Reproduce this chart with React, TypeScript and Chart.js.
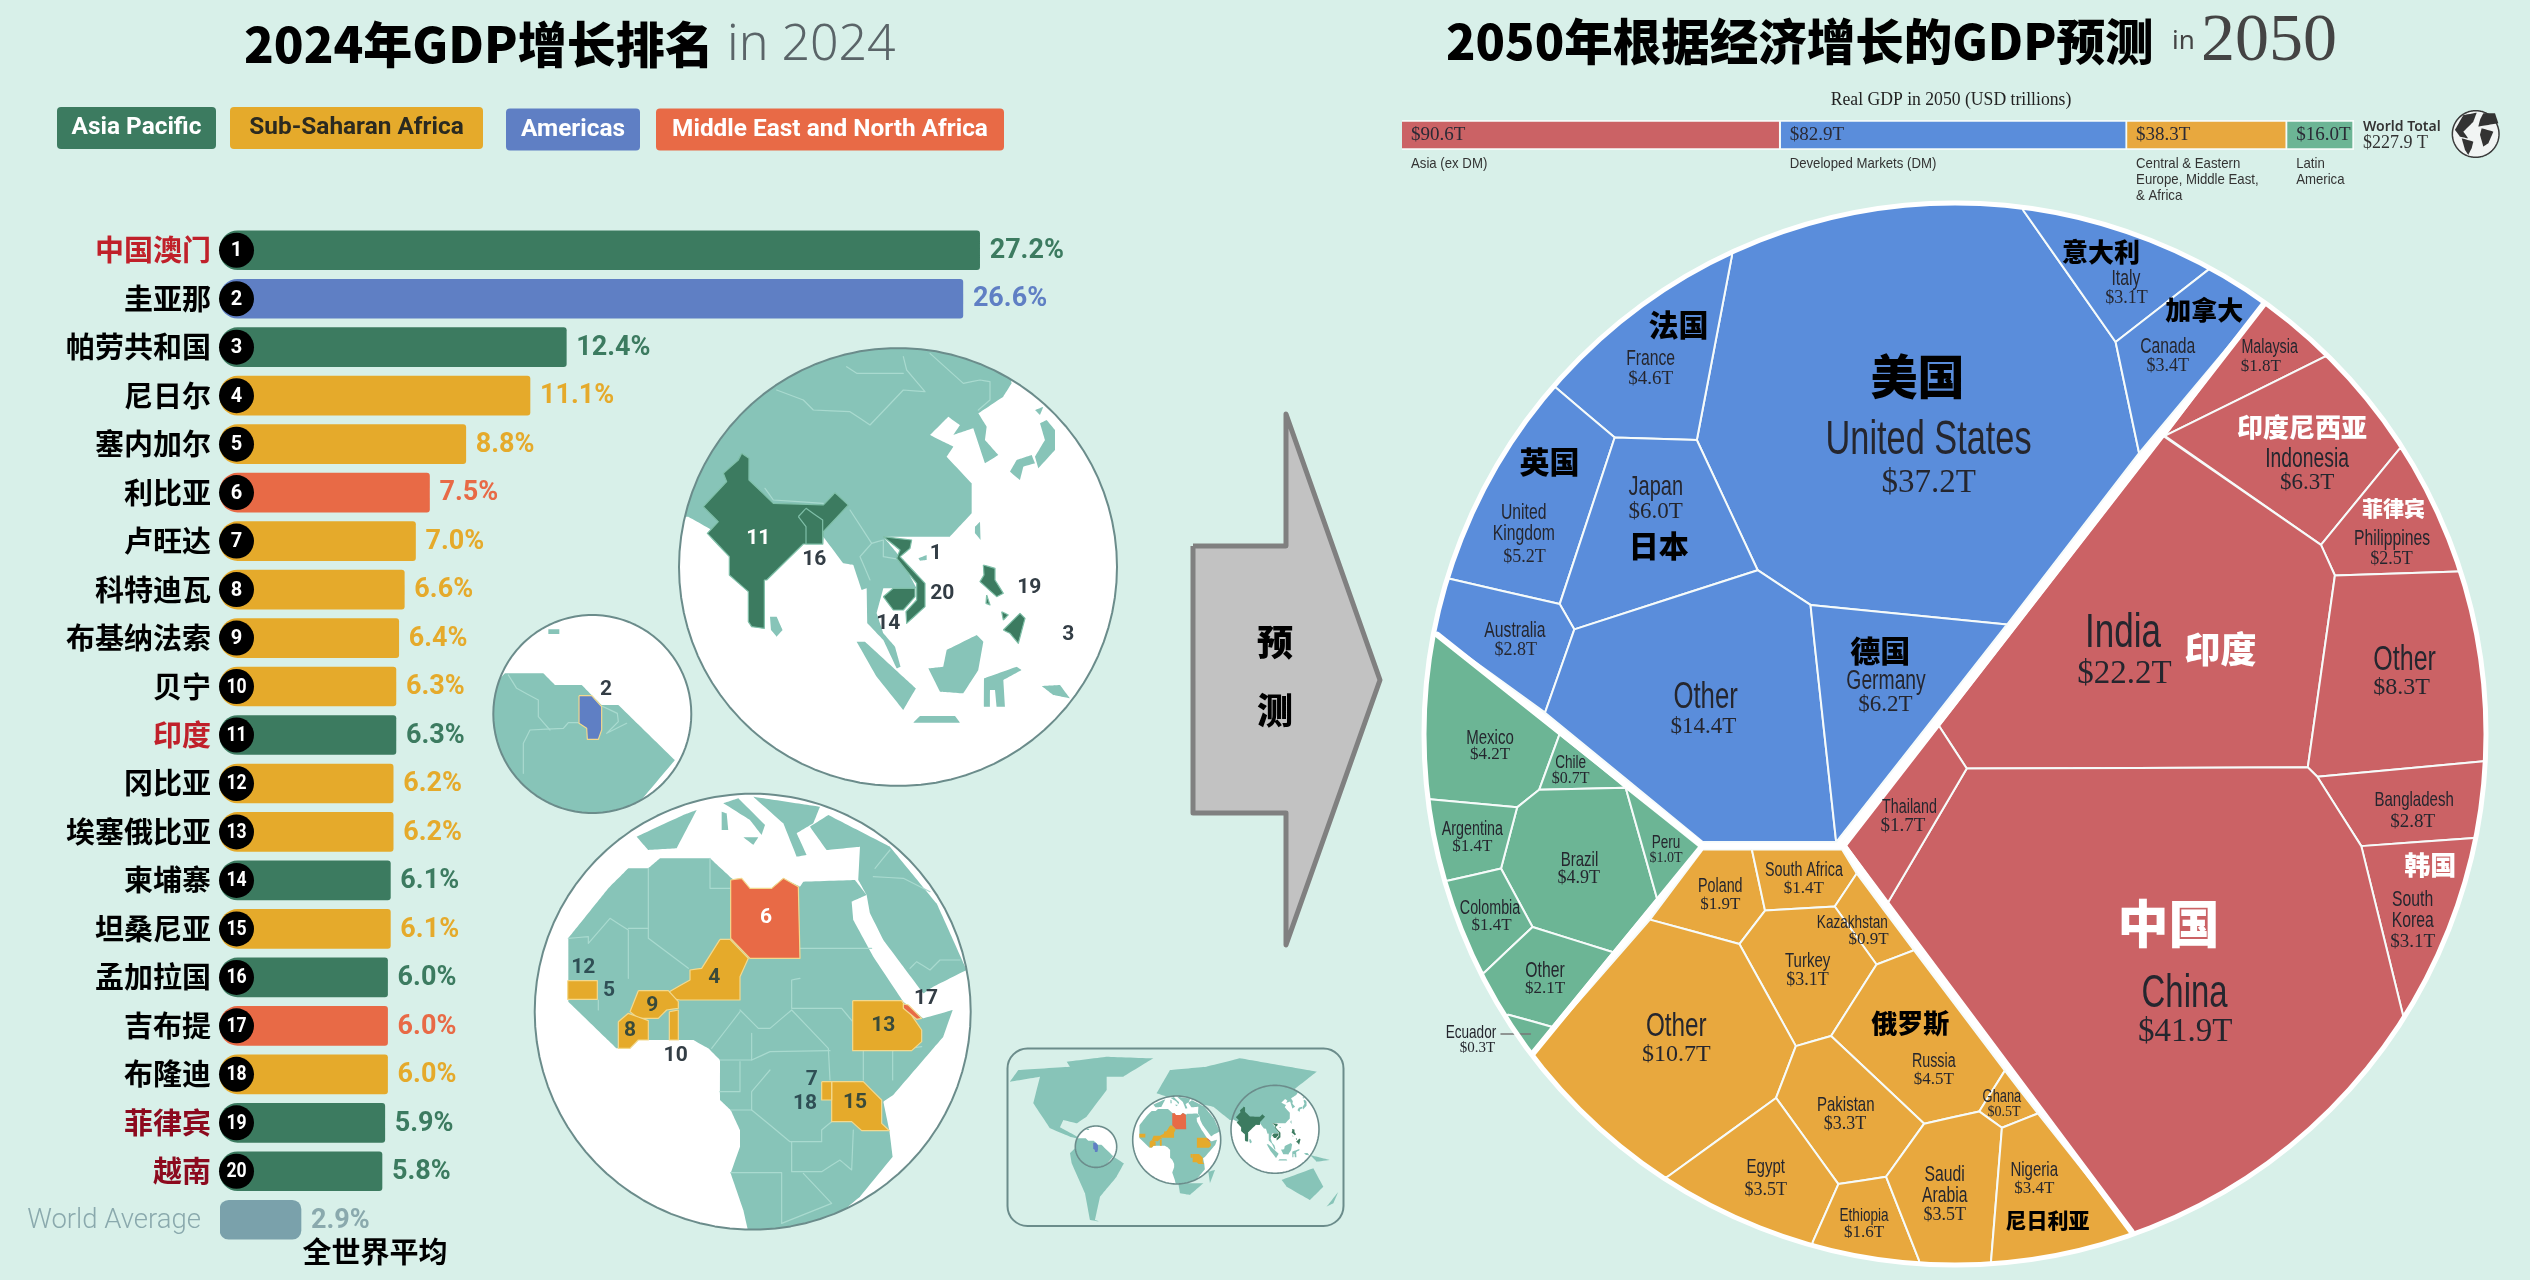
import React, { useEffect, useRef } from "react";
import { Chart, registerables } from "chart.js";

type P = [number, number];

// ---------- left ranking ----------
const countries = ["中国澳门","圭亚那","帕劳共和国","尼日尔","塞内加尔","利比亚","卢旺达","科特迪瓦","布基纳法索","贝宁","印度","冈比亚","埃塞俄比亚","柬埔寨","坦桑尼亚","孟加拉国","吉布提","布隆迪","菲律宾","越南","World Average"];
const growth = [27.2,26.6,12.4,11.1,8.8,7.5,7.0,6.6,6.4,6.3,6.3,6.2,6.2,6.1,6.1,6.0,6.0,6.0,5.9,5.8,2.9];
const barRegion = [0,2,0,1,1,3,1,1,1,1,0,1,1,0,1,0,3,1,0,0,4];
const regionNames = ["Asia Pacific","Sub-Saharan Africa","Americas","Middle East and North Africa"];
const regionColors = ["#3c7b60","#e5aa2b","#5f7fc4","#e86a46","#7aa1ab"];
const labelColors = ["#c0202a","#000","#000","#000","#000","#000","#000","#000","#000","#000","#c0202a","#000","#000","#000","#000","#000","#000","#000","#8c0a1e","#8c0a1e","#8aa9ad"];

// ---------- 2050 top strip ----------
const stripNames = [["Asia (ex DM)"],["Developed Markets (DM)"],["Central & Eastern","Europe, Middle East,","& Africa"],["Latin","America"]];
const stripValues = [90.6,82.9,38.3,16.0];
const stripColors = ["#cb6265","#5a8ddb","#e8a83e","#6cb595"];
const worldTotal = 227.9;

// ---------- 2050 cells ----------
const cellNames = ["United States","Italy","Canada","France","United\nKingdom","Japan","Australia","Other","Germany",
 "Malaysia","Indonesia","Philippines","India","Other","Bangladesh","South\nKorea","China","Thailand",
 "Mexico","Chile","Brazil","Peru","Argentina","Colombia","Other","Ecuador",
 "Poland","South Africa","Kazakhstan","Turkey","Other","Russia","Ghana","Pakistan","Egypt","Ethiopia","Saudi\nArabia","Nigeria"];
const cellValues = [37.2,3.1,3.4,4.6,5.2,6.0,2.8,14.4,6.2,
 1.8,6.3,2.5,22.2,8.3,2.8,3.1,41.9,1.7,
 4.2,0.7,4.9,1.0,1.4,1.4,2.1,0.3,
 1.9,1.4,0.9,3.1,10.7,4.5,0.5,3.3,3.5,1.6,3.5,3.4];
const cellRegion = [1,1,1,1,1,1,1,1,1, 0,0,0,0,0,0,0,0,0, 3,3,3,3,3,3,3,3, 2,2,2,2,2,2,2,2,2,2,2,2];
const cellShapes: P[][] = [
 [[480,625],[432,1078],[515,1397],[587,1482],[855,1530],[1035,1110],[1003,838],[877,515],[877,300],[480,300]],
 [[877,515],[1003,838],[1130,660],[1300,500],[877,300]],
 [[1003,838],[1035,1110],[1205,745],[1350,700],[1200,560],[1130,660]],
 [[240,950],[320,1072],[432,1078],[480,625],[480,300],[100,600],[100,850]],
 [[240,950],[320,1072],[245,1480],[95,1418],[-100,1350],[-100,850]],
 [[320,1072],[432,1078],[515,1397],[265,1542],[245,1480]],
 [[95,1418],[245,1480],[265,1542],[225,1746],[78,1555],[-100,1555],[-100,1350]],
 [[265,1542],[515,1397],[587,1482],[592,1568],[622,2063],[440,2063],[225,1746]],
 [[587,1482],[855,1530],[622,2063],[592,1568]],
 [[1070,1068],[1205,745],[1350,700],[1500,800],[1287,875]],
 [[1070,1068],[1287,875],[1500,800],[1600,1100],[1390,1100],[1283,1335]],
 [[1390,1100],[1283,1335],[1302,1410],[1470,1400],[1700,1400],[1600,1100]],
 [[1068,1068],[1283,1335],[1302,1410],[1265,1880],[800,1883],[762,1778]],
 [[1302,1410],[1470,1400],[1700,1400],[1700,1865],[1505,1865],[1278,1903],[1265,1880]],
 [[1278,1903],[1505,1865],[1700,1865],[1700,2053],[1492,2053],[1338,2073]],
 [[1338,2073],[1492,2053],[1700,2053],[1700,2700],[1395,2488]],
 [[800,1883],[1265,1880],[1278,1903],[1338,2073],[1395,2488],[1700,2700],[1100,3300],[1025,3018],[692,2213]],
 [[762,1778],[800,1883],[692,2213],[632,2063]],
 [[78,1555],[245,1798],[217,1935],[187,1978],[68,1958],[-100,1958],[-100,1555]],
 [[245,1798],[335,1930],[217,1935]],
 [[217,1935],[335,1930],[378,2203],[318,2333],[208,2271],[165,2128],[187,1978]],
 [[335,1930],[437,2076],[378,2203]],
 [[68,1958],[187,1978],[165,2128],[92,2158],[-100,2158],[-100,1958]],
 [[92,2158],[165,2128],[208,2271],[142,2383],[-100,2383],[-100,2158]],
 [[208,2271],[318,2333],[235,2516],[175,2486],[0,2560],[-100,2383],[142,2383]],
 [[175,2486],[235,2516],[208,2582],[100,2700],[0,2560]],
 [[440,2081],[507,2081],[525,2231],[490,2313],[368,2253]],
 [[507,2081],[630,2081],[650,2140],[620,2221],[525,2231]],
 [[650,2140],[728,2328],[677,2363],[620,2221]],
 [[525,2231],[620,2221],[677,2363],[615,2538],[567,2563],[490,2313]],
 [[368,2253],[490,2313],[567,2563],[540,2690],[392,2883],[200,3000],[100,2700],[208,2582]],
 [[677,2363],[728,2328],[852,2623],[817,2723],[742,2753],[615,2538]],
 [[852,2623],[897,2728],[848,2763],[817,2723]],
 [[567,2563],[615,2538],[742,2753],[690,2883],[625,2901],[540,2690]],
 [[392,2883],[540,2690],[625,2901],[590,3043],[590,3300],[200,3000]],
 [[625,2901],[690,2883],[735,3088],[735,3300],[590,3300],[590,3043]],
 [[690,2883],[742,2753],[817,2723],[848,2763],[833,3093],[833,3300],[735,3300],[735,3088]],
 [[848,2763],[897,2728],[1025,3018],[1100,3300],[833,3300],[833,3093]],
];
const regionBorders: P[][] = [
 [[1205,745],[632,2072]],
 [[440,2072],[632,2072]],
 [[78,1555],[440,2072]],
 [[440,2072],[208,2582]],
 [[632,2072],[1025,3018]],
];
// nameX, nameY, nameSize, valueX, valueY, valueSize
const cellLayout: number[][] = [
 [748,1080,48,748,1183,33],[1017,684,22,1018,731,18],[1074,849,22,1074,897,18],[369,880,22,369,929,19],[196,1256,22,197,1365,18],[376,1195,28,376,1254,23],[184,1545,22,185,1592,18],[444,1710,36,441,1780,23],[690,1670,27,689,1726,23],
 [1213,852,20,1201,897,17],[1264,1127,27,1264,1183,23],[1380,1321,22,1379,1369,18],[1013,1553,49,1015,1652,33],[1397,1618,35,1393,1684,24],[1410,1960,21,1408,2014,19],[1408,2204,22,1408,2308,19],[1097,2436,46,1098,2528,33],[722,1978,20,713,2023,19],
 [150,1808,21,150,1849,17],[260,1868,19,260,1908,16],[272,2108,21,271,2151,18],[390,2065,19,390,2103,14],[126,2033,20,126,2074,17],[150,2226,20,152,2268,17],[225,2380,22,225,2423,17],[124,2530,19,133,2568,15],
 [464,2171,20,464,2216,17],[578,2133,20,578,2176,17],[644,2260,19,666,2301,17],[583,2355,21,583,2401,18],[404,2515,34,404,2584,24],[755,2600,20,755,2645,17],[848,2688,18,851,2726,14],[635,2707,21,634,2755,18],[526,2860,21,526,2915,18],[660,2978,19,660,3020,17],[770,2878,22,770,2978,18],[892,2868,21,892,2912,17],
];
// Chinese call-outs on the cells: text, x, y, size, colour
const cnLabels: [string,number,number,number,string][] = [
 ["美国",733,922,47,"#000"],["意大利",983,618,26,"#000"],["加拿大",1124,760,26,"#000"],["法国",407,795,30,"#000"],["英国",231,1132,30,"#000"],["日本",380,1336,30,"#000"],["德国",682,1593,30,"#000"],
 ["印度尼西亚",1257,1046,26,"#fff"],["菲律宾",1382,1244,21,"#fff"],["印度",1146,1590,36,"#fff"],["韩国",1432,2120,26,"#fff"],["中国",1075,2263,51,"#fff"],
 ["俄罗斯",723,2506,26,"#000"],["尼日利亚",910,2988,21,"#000"],
];

// ---------- maps (picture units of each map) ----------
const asiaLand: P[][] = [
 [[-50,535],[55,530],[135,575],[460,590],[520,670],[550,675],[575,750],[590,745],[592,850],[640,900],[680,985],[692,980],[675,920],[640,880],[620,820],[640,745],[740,745],[690,650],[640,590],[840,590],[905,520],[905,430],[830,350],[850,320],[830,310],[780,285],[835,230],[870,255],[850,285],[910,265],[945,370],[985,345],[945,300],[950,260],[925,220],[1000,170],[1025,130],[1000,-50],[-50,-50]],
 [[300,830],[320,830],[338,870],[320,890],[303,870]],
 [[745,655],[770,645],[770,660],[750,662]],
 [[915,560],[930,545],[932,600],[915,580]],
 [[1110,250],[1130,240],[1155,270],[1155,330],[1105,385],[1095,350],[1125,300]],
 [[1020,395],[1040,360],[1085,345],[1095,370],[1060,380],[1050,420]],
 [[1095,210],[1120,200],[1110,225]],
 [[560,905],[585,905],[738,1045],[700,1110],[620,1010]],
 [[775,985],[820,980],[830,930],[920,885],[940,905],[925,990],[880,1060],[810,1055]],
 [[942,1015],[1040,980],[1055,990],[1000,1020],[1005,1100],[980,1100],[975,1050],[960,1050],[960,1100],[942,1100]],
 [[730,1148],[750,1128],[855,1128],[870,1148]],
 [[1115,1038],[1170,1035],[1200,1075],[1150,1065]],
];
const asiaDark: P[][] = [
 [[215,340],[237,355],[237,420],[310,490],[460,495],[495,458],[535,495],[460,575],[458,612],[400,612],[290,720],[283,720],[283,865],[245,860],[235,845],[235,755],[178,705],[178,650],[112,580],[145,545],[100,500],[170,425],[160,400],[205,360]],
 [[385,530],[408,505],[458,540],[458,612],[408,612],[408,560]],
 [[640,770],[670,745],[735,745],[735,770],[700,810],[670,810]],
 [[640,590],[725,600],[720,625],[690,650],[765,730],[765,800],[710,850],[708,815],[740,780],[740,730],[680,655],[690,630]],
 [[940,675],[975,685],[975,720],[1000,760],[980,770],[930,725],[942,705]],
 [[1000,870],[1050,820],[1065,835],[1045,910],[1020,880]],
 [[950,765],[960,795],[948,790]],
 [[995,815],[1015,825],[1000,840]],
];
const asiaBorders: P[][] = [
 [[320,150],[400,180],[430,210],[540,215],[600,255],[700,150],[765,155],[710,90],[700,50]],
 [[530,80],[560,100],[700,100]],
 [[780,40],[880,130],[930,120],[960,125],[960,180],[925,210]],
 [[285,445],[310,480],[460,490]],
 [[540,510],[605,610],[570,650],[600,720]],
 [[605,610],[640,600],[640,650],[700,660]],
];
const africaLand: P[][] = [
 [[145,475],[265,325],[325,265],[385,265],[420,235],[570,235],[635,295],[685,325],[755,325],[790,295],[840,320],[850,305],[1005,300],[1040,345],[995,365],[1000,420],[1060,530],[1150,665],[1210,715],[1298,690],[1270,770],[1120,945],[1090,965],[1108,1050],[1118,1130],[1020,1250],[960,1300],[800,1400],[695,1400],[670,1290],[632,1180],[660,1100],[660,1050],[632,990],[600,960],[600,840],[565,805],[520,780],[355,780],[330,805],[290,805],[145,665]],
 [[350,170],[490,105],[530,90],[470,205],[385,210]],
 [[610,70],[655,55],[735,135],[725,165],[690,120]],
 [[700,50],[900,80],[880,130],[830,160],[860,225],[830,230],[790,130]],
 [[605,95],[620,100],[625,150],[605,150]],
 [[670,172],[715,172],[700,195]],
 [[870,140],[925,105],[1110,200],[1250,370],[1340,570],[1240,620],[1210,640],[1150,560],[1090,480],[1050,400],[1040,345],[1015,300],[1020,200],[920,210]],
];
const africaGold: P[][] = [
 [[600,478],[630,478],[685,535],[660,590],[660,660],[480,660],[448,655],[448,635],[510,600],[510,570],[545,565]],
 [[355,632],[445,632],[475,665],[475,685],[440,690],[415,715],[355,715],[330,695]],
 [[295,725],[325,700],[385,722],[385,780],[355,780],[330,805],[295,805]],
 [[143,602],[232,602],[232,658],[143,658]],
 [[448,695],[475,690],[475,780],[448,780]],
 [[998,662],[1145,662],[1205,750],[1205,785],[1175,812],[998,812]],
 [[935,905],[1030,905],[1085,960],[1085,1030],[1108,1052],[1025,1052],[995,1025],[935,1025]],
 [[905,905],[935,905],[935,960],[905,960]],
];
const africaRed: P[][] = [
 [[632,300],[665,295],[690,325],[755,325],[790,295],[835,320],[840,535],[690,535],[632,475]],
 [[1150,672],[1165,675],[1205,715],[1190,718],[1150,685]],
];
const africaBorders: P[][] = [
 [[385,265],[385,475],[505,565]],[[570,235],[570,325],[632,325]],
 [[145,475],[205,470],[205,490],[270,415],[325,450],[325,595]],[[325,445],[385,445]],
 [[840,505],[1055,505]],[[840,595],[815,600],[815,685],[965,685],[998,725]],
 [[660,690],[715,745],[750,745],[815,690],[925,805],[930,900]],[[660,695],[575,805]],
 [[695,760],[695,840],[600,840]],[[695,840],[750,815],[930,812]],
 [[750,870],[695,935],[695,990],[810,1085],[905,1085],[905,1050],[935,1025]],
 [[600,935],[660,935],[660,845]],[[632,990],[695,990]],
 [[815,1085],[815,1175],[905,1175],[960,1140],[995,1170],[1000,1050]],
 [[632,1178],[785,1178],[785,1330]],[[850,1180],[935,1270],[785,1330]],
 [[1030,900],[1030,812]],[[1118,900],[1118,812],[1205,800]],
 [[1065,265],[1110,210]],[[1060,290],[1150,295],[1230,335]],[[1170,565],[1190,545],[1230,570],[1260,540],[1320,540]],
 [[148,620],[190,620],[190,640],[148,640]],[[235,660],[235,690]],
];
const samericaLand: P[][] = [
 [[75,220],[190,220],[225,255],[305,255],[365,315],[415,315],[585,480],[400,700],[0,700],[0,300]],
 [[205,88],[238,88],[238,102],[205,102]],
];
const guyanaShape: P[] = [[297,287],[335,287],[365,320],[365,390],[355,418],[322,418],[320,385],[297,370]];
const samericaBorders: P[][] = [
 [[85,225],[110,265],[175,300],[175,350],[210,390]],
 [[130,520],[130,430],[150,390],[250,385],[265,368],[297,368]],
 [[365,318],[412,340],[415,365],[380,400],[440,370]],
];
const insetLand: P[][] = [
 [[30,125],[55,90],[210,80],[200,65],[320,50],[460,55],[370,110],[320,110],[320,150],[260,230],[230,250],[190,240],[180,262],[250,300],[210,290],[150,265],[100,190],[120,110]],
 [[210,340],[250,300],[340,350],[372,370],[350,410],[300,470],[285,540],[300,545],[270,540],[255,460],[215,370]],
 [[470,160],[510,90],[620,80],[720,55],[950,95],[880,150],[850,200],[780,260],[690,240],[640,200],[500,170]],
 [[535,430],[610,430],[570,465],[540,460]],
 [[625,395],[645,390],[630,430]],
 [[845,420],[940,385],[970,440],[930,480],[860,440]],
 [[980,500],[1015,455],[1000,490]],
 [[930,345],[990,360],[950,365]],
];
const asiaNumbers: [string,number,number,string][] = [["11",265,595,"#fff"],["16",433,660,"#333d45"],["1",797,640,"#333d45"],["20",817,762,"#333d45"],["19",1078,743,"#333d45"],["14",655,850,"#333d45"],["3",1195,885,"#333d45"]];
const africaNumbers: [string,number,number,string][] = [["12",190,563,"#2f4f55"],["5",267,632,"#2f4f55"],["8",330,752,"#3a4a3a"],["9",397,677,"#3a4a3a"],["4",583,593,"#3a4a3a"],["6",738,412,"#fff"],["10",467,826,"#333d45"],["13",1090,738,"#3a4a3a"],["17",1218,655,"#333d45"],["7",875,898,"#2f4f55"],["18",855,972,"#2f4f55"],["15",1005,968,"#3a4a3a"]];
const globeIconLand: P[][] = [
 [[345,120],[370,75],[410,68],[400,95],[370,125],[385,145],[360,140]],
 [[365,145],[400,155],[395,175],[385,195],[375,180]],
 [[415,110],[475,100],[465,70],[430,70],[420,90]],
 [[425,115],[460,125],[445,160],[430,170],[420,135]],
];
const arrowShape: P[] = [[1193,546],[1286,546],[1286,414],[1380,680],[1286,945],[1286,813],[1193,813]];

// ---------- helpers ----------
const BG = "#d8f0e9";
const CJK = '"Noto Sans CJK SC"';
const SANS = '"Liberation Sans",sans-serif';
const SERIF = '"Liberation Serif",serif';
const LAND = "#87c4b8";
const LINE = "#a9dacf";
const RING = "#6b8c8b";

const clipCirclePlugin = {
  id: "clipCircle",
  beforeDatasetDraw(chart: any, args: any) {
    const c = chart.data.datasets[args.index].clipCircle;
    if (!c) return;
    chart.ctx.save();
    chart.ctx.beginPath();
    chart.ctx.arc(c.cx, c.cy, c.r, 0, Math.PI * 2);
    chart.ctx.clip();
  },
  afterDatasetDraw(chart: any, args: any) {
    if (chart.data.datasets[args.index].clipCircle) chart.ctx.restore();
  },
};
Chart.register(clipCirclePlugin, ...registerables);

const pts = (a: P[]) => a.map(([x, y]) => ({ x, y }));
const poly = (a: P[], fill: string, stroke = "transparent", w = 0, clip?: any) => ({
  data: pts([...a, a[0]]), fill: "shape", backgroundColor: fill, borderColor: stroke, borderWidth: w,
  pointRadius: 0, tension: 1e-4, borderJoinStyle: "round", clipCircle: clip,
});
const line = (a: P[], stroke: string, w: number, clip?: any) => ({
  data: pts(a), fill: false, borderColor: stroke, borderWidth: w, pointRadius: 0, tension: 1e-4,
  borderCapStyle: "round", borderJoinStyle: "round", clipCircle: clip,
});
const circlePts = (cx: number, cy: number, r: number): P[] =>
  Array.from({ length: 90 }, (_, i) => [cx + r * Math.cos((i / 90) * Math.PI * 2), cy + r * Math.sin((i / 90) * Math.PI * 2)] as P);

type Globe = { ox: number; oy: number; s: number };
const place = (a: P[], g: Globe): P[] => a.map(([x, y]) => [g.ox + x / g.s, g.oy + y / g.s]);
const shrink = (a: P[], from: number[], to: number[]): P[] =>
  a.map(([x, y]) => [to[0] + (x - from[0]) * (to[2] / from[2]), to[1] + (y - from[1]) * (to[2] / from[2])]);

function text(ctx: CanvasRenderingContext2D, t: string, x: number, y: number, font: string, color: string, align: CanvasTextAlign = "center", squeeze = 1) {
  ctx.save();
  ctx.font = font;
  ctx.fillStyle = color;
  ctx.textAlign = align;
  ctx.textBaseline = "middle";
  if (squeeze !== 1) ctx.fillText(t, x, y, ctx.measureText(t).width * squeeze);
  else ctx.fillText(t, x, y);
  ctx.restore();
}

const fmtT = (v: number) => `$${v.toFixed(1)}T`;

function useChart(ref: React.RefObject<HTMLCanvasElement | null>, make: (c: HTMLCanvasElement) => Chart) {
  useEffect(() => {
    if (!ref.current) return;
    const ch = make(ref.current);
    return () => ch.destroy();
  }, []);
}

const hiddenAxes = (xMax: number, yMax: number, xMin = 0) => ({
  x: { type: "linear", display: false, min: xMin, max: xMax },
  y: { type: "linear", display: false, min: 0, max: yMax, reverse: true },
});

function makeMaps(c: HTMLCanvasElement) {
  const asiaBig = { cx: 898, cy: 567, r: 219 };
  const afBig = { cx: 752.7, cy: 1011.7, r: 218 };
  const saBig = { cx: 592.3, cy: 714, r: 99 };
  const gA: Globe = { ox: 670, oy: 340, s: 3 };
  const gF: Globe = { ox: 520, oy: 780, s: 3 };
  const gS: Globe = { ox: 480, oy: 600, s: 3 };
  const gI: Globe = { ox: 1000, oy: 1040, s: 3 };
  const ds: any[] = [];
  insetLand.forEach((a) => ds.push(poly(place(a, gI), LAND)));
  const addGlobe = (big: any, g: Globe, land: P[][], marks: [P[], string][], borders: P[][], to: number[] | null, goldEdge: boolean) => {
    const from = [big.cx, big.cy, big.r];
    const map = (a: P[]) => (to ? shrink(place(a, g), from, to) : place(a, g));
    const circ = to ? { cx: to[0], cy: to[1], r: to[2] } : big;
    ds.push(poly(circlePts(circ.cx, circ.cy, circ.r), "#fff"));
    land.forEach((a) => ds.push(poly(map(a), LAND, "transparent", 0, circ)));
    if (!to) borders.forEach((a) => ds.push(line(map(a), LINE, 1.2, circ)));
    marks.forEach(([a, col]) => ds.push(poly(map(a), col, !to && goldEdge ? "#f3d98e" : !to ? "#7fbfa8" : "transparent", to ? 0 : 1.2, circ)));
    ds.push(line(circlePts(circ.cx, circ.cy, circ.r).concat([[circ.cx + circ.r, circ.cy]]), RING, to ? 1.6 : 2));
  };
  const sets: [any, Globe, P[][], [P[], string][], P[][], number[]][] = [
    [saBig, gS, samericaLand, [[guyanaShape, regionColors[2]]], samericaBorders, [1096, 1146.7, 20.7]],
    [afBig, gF, africaLand, [...africaGold.map((a) => [a, regionColors[1]] as [P[], string]), ...africaRed.map((a) => [a, regionColors[3]] as [P[], string])], africaBorders, [1176.7, 1140, 44]],
    [asiaBig, gA, asiaLand, asiaDark.map((a) => [a, regionColors[0]] as [P[], string]), asiaBorders, [1275, 1129.3, 44]],
  ];
  sets.forEach(([b, g, l, m, br, t]) => {
    addGlobe(b, g, l, m, br, t, false);
    addGlobe(b, g, l, m, br, null, b === afBig || b === saBig);
  });
  ds.push(poly(arrowShape, "#c2c2c2", "#808080", 5));
  ds.reverse();
  return new Chart(c, {
    type: "line",
    data: { datasets: ds },
    options: {
      animation: false, responsive: false, devicePixelRatio: 1,
      layout: { padding: 0 },
      scales: hiddenAxes(1400, 1280) as any,
      plugins: { legend: { display: false }, tooltip: { enabled: false } },
    },
    plugins: [{
      id: "mapDecor",
      beforeDatasetsDraw(ch: any) {
        const ctx = ch.ctx;
        ctx.save();
        ctx.strokeStyle = RING;
        ctx.lineWidth = 2;
        ctx.beginPath();
        (ctx as any).roundRect(1007.5, 1048.5, 336, 177.5, 20);
        ctx.stroke();
        ctx.restore();
      },
      afterDatasetsDraw(ch: any) {
        const ctx = ch.ctx;
        const num = (n: [string, number, number, string][], g: Globe) =>
          n.forEach(([t, x, y, col]) => text(ctx, t, g.ox + x / g.s, g.oy + y / g.s, 'bold 21px Roboto', col));
        num(asiaNumbers, gA);
        num(africaNumbers, gF);
        text(ctx, "2", 480 + 378 / 3, 600 + 268 / 3, "bold 21px Roboto", "#333d45");
        text(ctx, "预", 1275, 642, `900 36px ${CJK}`, "#000");
        text(ctx, "测", 1275, 710, `900 36px ${CJK}`, "#000");
        text(ctx, "2024年GDP增长排名", 244, 44, `900 49px ${CJK}`, "#000", "left");
        text(ctx, "in 2024", 727, 46, '300 50px "Noto Sans"', "#5a6468", "left");
        text(ctx, "全世界平均", 375, 1252, `700 29px ${CJK}`, "#000");
      },
    }],
  } as any);
}

function makeBars(c: HTMLCanvasElement) {
  const colors = barRegion.map((r) => regionColors[r]);
  return new Chart(c, {
    type: "bar",
    data: {
      labels: countries,
      datasets: [{
        data: growth,
        backgroundColor: colors,
        barThickness: 39,
        borderSkipped: false,
        borderRadius: (ctx: any) => ctx.dataIndex === 20 ? 9 : { topLeft: 18, bottomLeft: 18, topRight: 3, bottomRight: 3 },
      }],
    },
    options: {
      indexAxis: "y", animation: false, responsive: false, devicePixelRatio: 1,
      layout: { padding: { top: 226, bottom: 36, left: 0, right: 0 } },
      scales: {
        x: { display: false, min: 0, max: 33.3 },
        y: {
          grid: { display: false }, border: { display: false },
          afterFit: (s: any) => { s.width = 220; },
          ticks: {
            autoSkip: false, padding: 1,
            callback: (_v: any, i: number) => (i === 20 ? "" : countries[i]),
            color: (ctx: any) => labelColors[ctx.index],
            font: { family: '"Noto Sans CJK SC"', size: 29, weight: "700" },
          },
        },
      },
      plugins: { legend: { display: false }, tooltip: { enabled: false } },
    },
    plugins: [{
      id: "barDecor",
      afterDatasetsDraw(ch: any) {
        const ctx = ch.ctx;
        const xs = ch.scales.x, ys = ch.scales.y;
        growth.forEach((v, i) => {
          const y = ys.getPixelForValue(i);
          text(ctx, `${v.toFixed(1)}%`, xs.getPixelForValue(v) + 10, y + 1, "bold 27px Roboto", i === 20 ? "#8aa9ad" : regionColors[barRegion[i]], "left");
          if (i < 20) {
            ctx.save();
            ctx.fillStyle = "#000";
            ctx.beginPath();
            ctx.arc(xs.left + 16.5, y, 17.5, 0, Math.PI * 2);
            ctx.fill();
            ctx.restore();
            text(ctx, String(i + 1), xs.left + 16.5, y + 1, "bold 20px Roboto", "#fff", "center", i >= 9 ? 0.88 : 1);
          }
        });
        text(ctx, countries[20], 201, ys.getPixelForValue(20) + 1, "300 27.5px Roboto", labelColors[20], "right");
        const lx = [[57, 216], [230, 483], [506, 640], [656, 1004]];
        const ly = [107, 107, 108.5, 108.5];
        regionNames.forEach((n, i) => {
          ctx.save();
          ctx.fillStyle = regionColors[i];
          ctx.beginPath();
          ctx.roundRect(lx[i][0], ly[i], lx[i][1] - lx[i][0], 42, 4);
          ctx.fill();
          ctx.restore();
          text(ctx, n, (lx[i][0] + lx[i][1]) / 2, ly[i] + 21, "bold 24.4px Roboto", i === 1 ? "#2b2a20" : "#fff");
        });
      },
    }],
  } as any);
}

function makeStrip(c: HTMLCanvasElement) {
  const L = 1390, T = 85;
  const total = stripValues.reduce((a, b) => a + b, 0);
  return new Chart(c, {
    type: "bar",
    data: {
      labels: ["Real GDP"],
      datasets: stripValues.map((v, i) => ({
        data: [v], backgroundColor: stripColors[i], borderColor: "#f4fbf9", borderWidth: 2, barThickness: 30, stack: "s",
      })),
    },
    options: {
      indexAxis: "y", animation: false, responsive: false, devicePixelRatio: 1,
      layout: { padding: { left: 12, right: 176, top: 35, bottom: 70 } },
      scales: {
        x: { display: false, stacked: true, min: 0, max: total },
        y: { display: false, stacked: true },
      },
      plugins: { legend: { display: false }, tooltip: { enabled: false } },
    },
    plugins: [{
      id: "stripText",
      afterDatasetsDraw(ch: any) {
        const ctx = ch.ctx;
        const xs = ch.scales.x;
        let acc = 0;
        text(ctx, "Real GDP in 2050 (USD trillions)", 1951 - L, 100 - T, `18px ${SERIF}`, "#222", "center", 0.98);
        stripValues.forEach((v, i) => {
          const x = xs.getPixelForValue(acc) + 9;
          text(ctx, fmtT(v), x, 135 - T, `19px ${SERIF}`, "#2a2a35", "left");
          stripNames[i].forEach((ln, k) => text(ctx, ln, x, 164 - T + k * 16, `15px ${SANS}`, "#333", "left", 0.88));
          acc += v;
        });
        text(ctx, "World Total", 2363 - L, 127 - T, '600 14px "Noto Sans"', "#333", "left");
        text(ctx, `$${worldTotal.toFixed(1)} T`, 2363 - L, 143 - T, `18px ${SERIF}`, "#333", "left");
      },
    }],
  } as any);
}

function makeVoronoi(c: HTMLCanvasElement) {
  const clip = { cx: 575, cy: 734, r: 530 };
  const ds: any[] = [];
  ds.push(poly(circlePts(784, 1798, 1).map(([x, y]) => [784 + (x - 784) * 723, 1798 + (y - 1798) * 1298] as P), "#fff"));
  cellShapes.forEach((s, i) => ds.push(poly(s, stripColors[cellRegion[i]], "#f6fbfa", 2, clip)));
  regionBorders.forEach((b) => ds.push(line(b, "#fff", 6, clip)));
  ds.push(line([[165, 2533], [205, 2533]], "#777", 1.5));
  const ico = (a: P[]): P[] => a.map(([x, y]) => [(2340 + x / 3 - 1380) * 1.3635, (90 + y / 3) * 2.45]);
  ds.push(poly(ico(circlePts(407, 132, 70)), "#f1f4f3", "#3a3a3a", 1.5));
  globeIconLand.forEach((a) => ds.push(poly(ico(a), "#333")));
  ds.reverse();
  return new Chart(c, {
    type: "line",
    data: { datasets: ds },
    options: {
      animation: false, responsive: false, devicePixelRatio: 1,
      layout: { padding: 0 },
      scales: hiddenAxes(1568, 3136) as any,
      plugins: { legend: { display: false }, tooltip: { enabled: false } },
    },
    plugins: [{
      id: "cellText",
      afterDatasetsDraw(ch: any) {
        const ctx = ch.ctx;
        const X = (v: number) => ch.scales.x.getPixelForValue(v);
        const Y = (v: number) => ch.scales.y.getPixelForValue(v);
        ctx.save();
        ctx.strokeStyle = "#fff";
        ctx.lineWidth = 5;
        ctx.beginPath();
        ctx.arc(clip.cx, clip.cy, clip.r + 1, 0, Math.PI * 2);
        ctx.stroke();
        ctx.restore();
        cellNames.forEach((n, i) => {
          const [nx, ny, ns, vx, vy, vs] = cellLayout[i];
          n.split("\n").forEach((ln, k) =>
            text(ctx, ln, X(nx), Y(ny) + k * ns * 0.96, `${ns}px ${SANS}`, "#25262e", "center", 0.715));
          text(ctx, fmtT(cellValues[i]), X(vx), Y(vy), `${vs}px ${SERIF}`, "#25262e");
        });
        cnLabels.forEach(([t, x, y, s, col]) => text(ctx, t, X(x), Y(y), `900 ${s}px ${CJK}`, col));
        text(ctx, "2050年根据经济增长的GDP预测", 1446 - 1380, 41, `900 49px ${CJK}`, "#000", "left", 0.99);
        text(ctx, "in", 2172 - 1380, 42, '26px "Noto Sans"', "#444", "left");
        text(ctx, "2050", 2201 - 1380, 42, `68px ${SERIF}`, "#444", "left");
      },
    }],
  } as any);
}

export default function App() {
  const maps = useRef<HTMLCanvasElement>(null);
  const bars = useRef<HTMLCanvasElement>(null);
  const strip = useRef<HTMLCanvasElement>(null);
  const vor = useRef<HTMLCanvasElement>(null);
  useChart(maps, makeMaps);
  useChart(bars, makeBars);
  useChart(vor, makeVoronoi);
  useChart(strip, makeStrip);
  useEffect(() => {
    document.body.style.margin = "0";
    document.body.style.background = BG;
  }, []);
  const abs = (left: number, top: number): React.CSSProperties => ({ position: "absolute", left, top, display: "block" });
  return (
    <div style={{ position: "absolute", left: 0, top: 0, width: 2530, height: 1280, background: BG, overflow: "hidden" }}>
      <canvas ref={maps} width={1400} height={1280} style={abs(0, 0)} />
      <canvas ref={bars} width={1150} height={1280} style={abs(0, 0)} />
      <canvas ref={vor} width={1150} height={1280} style={abs(1380, 0)} />
      <canvas ref={strip} width={1140} height={135} style={abs(1390, 85)} />
    </div>
  );
}
